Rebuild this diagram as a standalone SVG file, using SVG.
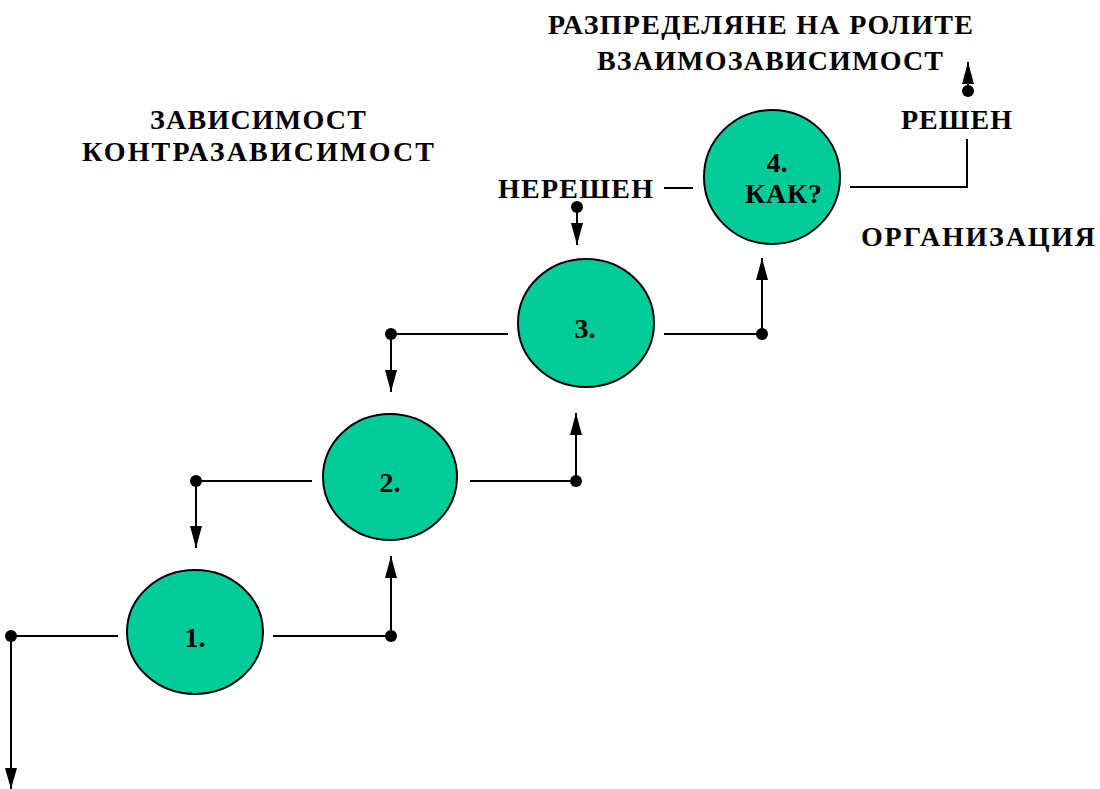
<svg xmlns="http://www.w3.org/2000/svg" width="1100" height="789" viewBox="0 0 1100 789">
  <style>
    .lbl { font-family: "Liberation Serif", "Times New Roman", serif; font-weight: bold; font-size: 28px; fill: #000; }
    .num { font-family: "Liberation Serif", "Times New Roman", serif; font-weight: bold; font-size: 28px; fill: #000; text-anchor: middle; }
    .node { fill: #00cc99; stroke: #000; stroke-width: 2; }
    .wire { fill: none; stroke: #000; stroke-width: 2; }
    .dot { fill: #000; }
  </style>
  <defs>
    <marker id="arrow" viewBox="0 0 22 12" refX="22" refY="6" markerWidth="22" markerHeight="12" markerUnits="userSpaceOnUse" orient="auto">
      <path d="M0,0 L22,6 L0,12 Z" fill="#000"/>
    </marker>
  </defs>
  <rect width="1100" height="789" fill="#fff"/>

  <!-- stage labels -->
  <g id="labels">
    <text class="lbl" x="150" y="129" textLength="216" lengthAdjust="spacing">ЗАВИСИМОСТ</text>
    <text class="lbl" x="82" y="161" textLength="352" lengthAdjust="spacing">КОНТРАЗАВИСИМОСТ</text>
    <text class="lbl" x="548" y="34" textLength="425" lengthAdjust="spacing">РАЗПРЕДЕЛЯНЕ НА РОЛИТЕ</text>
    <text class="lbl" x="597" y="70" textLength="346" lengthAdjust="spacing">ВЗАИМОЗАВИСИМОСТ</text>
    <text class="lbl" x="901" y="129" textLength="111" lengthAdjust="spacing">РЕШЕН</text>
    <text class="lbl" x="498" y="198" textLength="155" lengthAdjust="spacing">НЕРЕШЕН</text>
    <text class="lbl" x="861" y="246" textLength="234" lengthAdjust="spacing">ОРГАНИЗАЦИЯ</text>
  </g>

  <!-- connectors -->
  <g id="connectors">
    <!-- into step 1 -->
    <path class="wire" d="M118,636 H11 V789"/>
    <path d="M5,768 L17,768 L11,789 Z" fill="#000"/>
    <circle class="dot" cx="11" cy="636" r="6"/>
    <!-- 1 -> 2 -->
    <path class="wire" d="M273,636 H391 V556" marker-end="url(#arrow)"/>
    <circle class="dot" cx="391" cy="636" r="6"/>
    <!-- 2 back -> 1 -->
    <path class="wire" d="M312,481 H196 V548" marker-end="url(#arrow)"/>
    <circle class="dot" cx="196" cy="481" r="6"/>
    <!-- 2 -> 3 -->
    <path class="wire" d="M470,481 H576 V413" marker-end="url(#arrow)"/>
    <circle class="dot" cx="576" cy="481" r="6"/>
    <!-- 3 back -> 2 -->
    <path class="wire" d="M508,334 H391 V392" marker-end="url(#arrow)"/>
    <circle class="dot" cx="391" cy="334" r="6"/>
    <!-- 3 -> 4 -->
    <path class="wire" d="M664,334 H762 V258" marker-end="url(#arrow)"/>
    <circle class="dot" cx="762" cy="334" r="6"/>
    <!-- unresolved -> 3 -->
    <path class="wire" d="M664,188 H693"/>
    <path class="wire" d="M577,207 V245" marker-end="url(#arrow)"/>
    <circle class="dot" cx="577" cy="207" r="6"/>
    <!-- 4 -> resolved -->
    <path class="wire" d="M850,187 H967 V139"/>
    <path class="wire" d="M968,91 V62" marker-end="url(#arrow)"/>
    <circle class="dot" cx="968" cy="91" r="6"/>
  </g>

  <!-- steps -->
  <g id="step1">
    <ellipse class="node" cx="195" cy="632" rx="68" ry="62"/>
    <text class="num" x="195" y="647">1.</text>
  </g>
  <g id="step2">
    <ellipse class="node" cx="390" cy="477" rx="67" ry="63"/>
    <text class="num" x="390" y="492">2.</text>
  </g>
  <g id="step3">
    <ellipse class="node" cx="586" cy="323" rx="68" ry="64"/>
    <text class="num" x="585" y="338">3.</text>
  </g>
  <g id="step4">
    <ellipse class="node" cx="772" cy="177" rx="68" ry="67"/>
    <text class="num" x="777" y="172">4.</text>
    <text class="lbl" x="745" y="203" textLength="77" lengthAdjust="spacing">КАК?</text>
  </g>
</svg>
